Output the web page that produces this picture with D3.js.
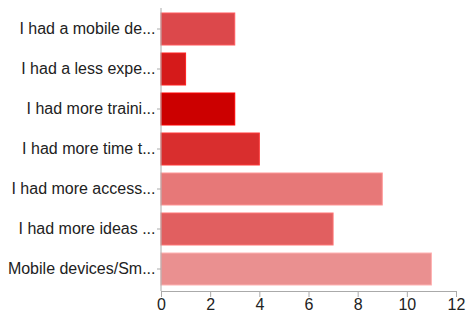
<!DOCTYPE html>
<html>
<head>
<meta charset="utf-8">
<script src="https://cdn.jsdelivr.net/npm/d3@7"></script>
<style>
  body { margin: 0; background: #fff; }
  svg text { font-family: "Liberation Sans", Arial, sans-serif; }
</style>
</head>
<body>
<svg id="chart" width="466" height="313"></svg>
<script>
const categories = [
  "I had a mobile de...",
  "I had a less expe...",
  "I had more traini...",
  "I had more time t...",
  "I had more access...",
  "I had more ideas ...",
  "Mobile devices/Sm..."
];
const values = [3, 1, 3, 4, 9, 7, 11];
const barColors = ["#dc484b", "#d51a1a", "#cc0000", "#d92e2e", "#e77878", "#e15f60", "#ea9090"];
const xTicks = [0, 2, 4, 6, 8, 10, 12];

const svg = d3.select("#chart");
const plotLeft = 161, plotRight = 456, plotTop = 9, plotBottom = 291;

const x = d3.scaleLinear().domain([0, 12]).range([plotLeft, plotRight]);
const y = d3.scaleBand().domain(categories).range([plotTop, plotBottom - 2]).paddingInner(0.2).paddingOuter(0.1);

// bars
svg.selectAll("rect.bar")
  .data(values)
  .enter()
  .append("rect")
  .attr("class", "bar")
  .attr("x", x(0))
  .attr("y", (d, i) => y(categories[i]))
  .attr("width", d => x(d) - x(0))
  .attr("height", y.bandwidth())
  .attr("fill", (d, i) => barColors[i])
  .attr("stroke", (d, i) => d3.color(barColors[i]).brighter(0.6))
  .attr("stroke-width", 1);

// y axis
const yAxis = svg.append("g")
  .attr("transform", `translate(${plotLeft},0)`)
  .call(d3.axisLeft(y).tickSize(4).tickPadding(1.5).tickSizeOuter(0));
yAxis.select(".domain").attr("stroke", "#aaa").attr("d", `M0,${plotTop - 1}V${plotBottom}`);
yAxis.selectAll(".tick line").attr("stroke", "#aaa");
yAxis.selectAll(".tick text").attr("font-size", "16px").attr("fill", "#222");

// x axis
const xAxis = svg.append("g")
  .attr("transform", `translate(0,${plotBottom})`)
  .call(d3.axisBottom(x).tickValues(xTicks).tickSize(6).tickPadding(2).tickSizeOuter(0));
xAxis.select(".domain").attr("stroke", "#aaa");
xAxis.selectAll(".tick line").attr("stroke", "#aaa");
xAxis.selectAll(".tick text").attr("font-size", "16px").attr("fill", "#222");
</script>
</body>
</html>
